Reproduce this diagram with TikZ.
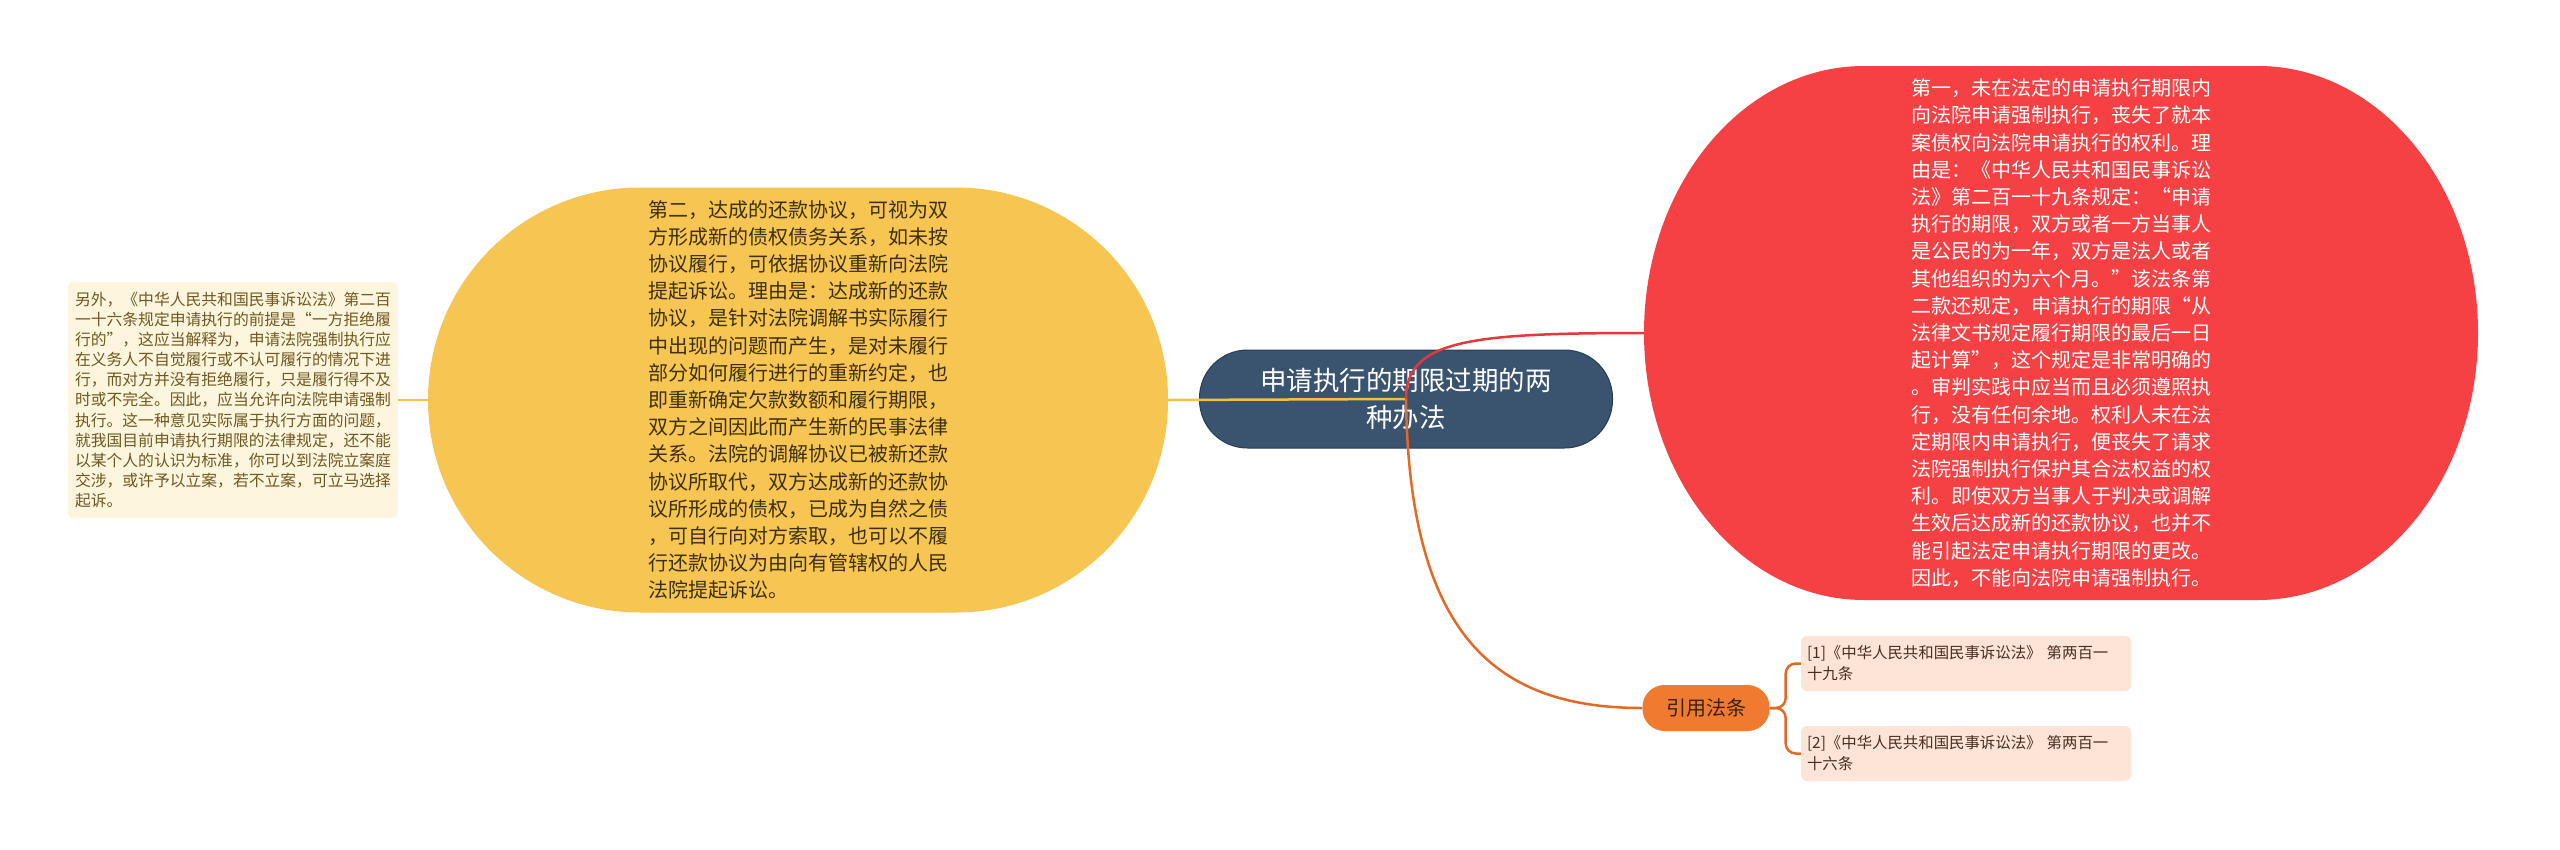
\documentclass[tikz,border=0pt]{standalone}
\usepackage{fontspec}
\setmainfont{Noto Sans CJK SC}
\usepackage{tikz}

\begin{document}
\begin{tikzpicture}[x=1pt,y=1pt,yscale=-1,xscale=1,
  topic/.style={draw={rgb, 255:red, 40; green, 60; blue, 84}, line width=1pt, fill={rgb, 255:red, 58; green, 84; blue, 112}, text=white, rounded corners=48, minimum width=413, minimum height=98, inner sep=0pt, align=center, font=\fontsize{26.5}{37}\selectfont},
  bigleaf/.style={inner sep=0pt, align=left, font=\fontsize{20}{27.2}\selectfont},
  note/.style={fill={rgb, 255:red, 254; green, 245; blue, 222}, text={rgb, 255:red, 112; green, 88; blue, 32}, rounded corners=6, text width=316, inner xsep=7, minimum height=236, align=left, font=\fontsize{15.8}{20.1}\selectfont},
  lawtag/.style={fill={rgb, 255:red, 240; green, 122; blue, 48}, text={rgb, 255:red, 58; green, 34; blue, 16}, rounded corners=22, minimum width=127, minimum height=46, inner sep=0pt, font=\fontsize{20}{24}\selectfont},
  cite/.style={fill={rgb, 255:red, 252; green, 228; blue, 214}, text={rgb, 255:red, 74; green, 46; blue, 30}, rounded corners=6, text width=318, inner xsep=6, minimum height=55, align=left, font=\fontsize{15.4}{21}\selectfont},
  link/.style={line width=2.5pt}
]
\useasboundingbox (0,0) rectangle (2560,849);

%Shape: Rounded Rect [id:root]
\node [topic] (root) at (1406,399) {申请执行的期限过期的两\\种办法};

%Shape: Stadium [id:second]
\node [bigleaf, fill={rgb, 255:red, 247; green, 197; blue, 82}, text={rgb, 255:red, 60; green, 48; blue, 16}, rounded corners=212, minimum width=740, minimum height=425] (second) at (798,400) {第二，达成的还款协议，可视为双\\方形成新的债权债务关系，如未按\\协议履行，可依据协议重新向法院\\提起诉讼。理由是：达成新的还款\\协议，是针对法院调解书实际履行\\中出现的问题而产生，是对未履行\\部分如何履行进行的重新约定，也\\即重新确定欠款数额和履行期限，\\双方之间因此而产生新的民事法律\\关系。法院的调解协议已被新还款\\协议所取代，双方达成新的还款协\\议所形成的债权，已成为自然之债\\，可自行向对方索取，也可以不履\\行还款协议为由向有管辖权的人民\\法院提起诉讼。};

%Shape: Oval [id:first]
\fill [color={rgb, 255:red, 245; green, 65; blue, 68}] (1864,66) -- (2258,66) arc [start angle=-90, end angle=90, x radius=220, y radius=267] -- (1864,600) arc [start angle=90, end angle=270, x radius=220, y radius=267] -- cycle;
\node [bigleaf, text=white, minimum width=834, minimum height=534] (first) at (2061,333) {第一，未在法定的申请执行期限内\\向法院申请强制执行，丧失了就本\\案债权向法院申请执行的权利。理\\由是：《中华人民共和国民事诉讼\\法》第二百一十九条规定：“申请\\执行的期限，双方或者一方当事人\\是公民的为一年，双方是法人或者\\其他组织的为六个月。”该法条第\\二款还规定，申请执行的期限“从\\法律文书规定履行期限的最后一日\\起计算”，这个规定是非常明确的\\。审判实践中应当而且必须遵照执\\行，没有任何余地。权利人未在法\\定期限内申请执行，便丧失了请求\\法院强制执行保护其合法权益的权\\利。即使双方当事人于判决或调解\\生效后达成新的还款协议，也并不\\能引起法定申请执行期限的更改。\\因此，不能向法院申请强制执行。};

% Text Node
\node [note] (other) at (233,400) {另外，《中华人民共和国民事诉讼法》第二百\\一十六条规定申请执行的前提是“一方拒绝履\\行的”，这应当解释为，申请法院强制执行应\\在义务人不自觉履行或不认可履行的情况下进\\行，而对方并没有拒绝履行，只是履行得不及\\时或不完全。因此，应当允许向法院申请强制\\执行。这一种意见实际属于执行方面的问题，\\就我国目前申请执行期限的法律规定，还不能\\以某个人的认识为标准，你可以到法院立案庭\\交涉，或许予以立案，若不立案，可立马选择\\起诉。};

% Text Node
\node [lawtag] (law) at (1706,708) {引用法条};
% Text Node
\node [cite] (cite1) at (1966,663.5) {[1]《中华人民共和国民事诉讼法》 第两百一\\十九条};
% Text Node
\node [cite] (cite2) at (1966,753.5) {[2]《中华人民共和国民事诉讼法》 第两百一\\十六条};

%Straight Lines [id:yellow]
\draw [link, color={rgb, 255:red, 242; green, 192; blue, 70}] (root.center) -- (second.east);
\draw [link, color={rgb, 255:red, 242; green, 192; blue, 70}] (second.west) -- (other.east);
%Curve Lines [id:red]
\draw [link, color={rgb, 255:red, 226; green, 58; blue, 60}] (root.center) .. controls +(0,-59) and +(-174,0) .. (first.west);
%Curve Lines [id:orange]
\draw [link, color={rgb, 255:red, 226; green, 106; blue, 38}] (root.center) .. controls +(3,241) and +(-143,0) .. (law.west);
\draw [link, color={rgb, 255:red, 226; green, 106; blue, 38}, rounded corners=10] (law.east) -- ++(16,0) |- (cite1.west);
\draw [link, color={rgb, 255:red, 226; green, 106; blue, 38}, rounded corners=10] (law.east) -- ++(16,0) |- (cite2.west);

\end{tikzpicture}
\end{document}
